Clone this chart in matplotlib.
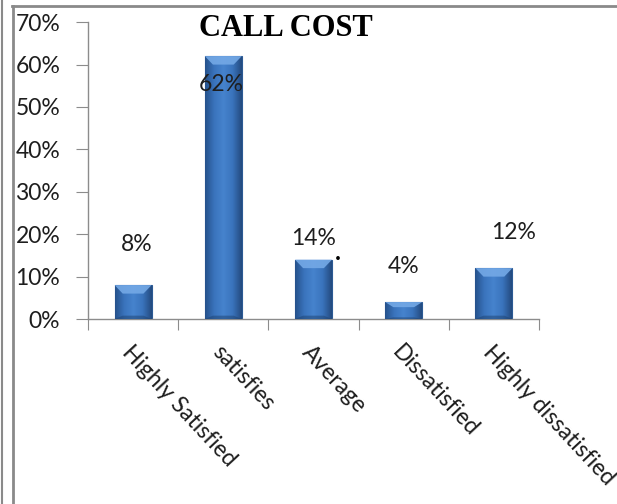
import numpy as np
import matplotlib
matplotlib.use("Agg")
import matplotlib.pyplot as plt
from matplotlib.colors import LinearSegmentedColormap
from matplotlib.patches import Polygon
from matplotlib.lines import Line2D
from matplotlib.ticker import PercentFormatter

# --- Data ---

categories = ["Highly Satisfied", "satisfies", "Average", "Dissatisfied", "Highly dissatisfied"]
values = [8, 62, 14, 4, 12]
value_labels = ["8%", "62%", "14%", "4%", "12%"]
# where the data labels sit (category units, percent)
label_x = [0.04, 0.98, 2.0, 3.0, 4.22]
label_y = [17.5, 55.2, 19.1, 12.3, 20.5]
title = "CALL COST"

plt.rcParams["font.family"] = ["Lato", "DejaVu Sans"]

# --- Figure ---

fig = plt.figure(figsize=(6.17, 5.04), dpi=100)
ax = fig.add_axes([0.1426, 0.367, 0.731, 0.589])

x = np.arange(len(categories))
bars = ax.bar(x, values, width=0.41, color="#3a6fb3", edgecolor="#2b5a94", linewidth=0.8, zorder=2)

# shaded look of the bars
grad = LinearSegmentedColormap.from_list("bar", ["#26528c", "#3a74bd", "#4683cd", "#3a74bd", "#244b80"])
gimg = np.linspace(0, 1, 64).reshape(1, -1)
for b in bars:
    bx, by, bw, bh = b.get_x(), b.get_y(), b.get_width(), b.get_height()
    im = ax.imshow(gimg, cmap=grad, aspect="auto", extent=(bx, bx + bw, by, by + bh), zorder=3)
    im.set_clip_path(b)
    dh = min(2.0, bh * 0.3)
    dx = 0.09
    top = by + bh
    ax.add_patch(Polygon([(bx, top), (bx + bw, top), (bx + bw - dx, top - dh), (bx + dx, top - dh)],
                         closed=True, facecolor="#74a9e6", edgecolor="none", alpha=0.9, zorder=4))
    ax.add_patch(Polygon([(bx, by), (bx + bw, by), (bx + bw - dx, by + min(0.8, bh * 0.1)),
                          (bx + dx, by + min(0.8, bh * 0.1))],
                         closed=True, facecolor="#1e4270", edgecolor="none", alpha=0.5, zorder=4))

for lx, ly, t in zip(label_x, label_y, value_labels):
    ax.text(lx, ly, t, ha="center", va="center", fontsize=16.5, color="#1e1e1e", zorder=6)
ax.text(2.27, 15.8, ".", ha="center", va="center", fontsize=18, fontweight="bold", color="black", zorder=6)

ax.set_xlim(-0.5, len(categories) - 0.5)
ax.set_ylim(0, 70)
ax.set_yticks(np.arange(0, 71, 10))
ax.yaxis.set_major_formatter(PercentFormatter(decimals=0))
ax.set_xticks(np.arange(-0.5, len(categories), 1.0))
ax.set_xticklabels([])
ax.set_xticks(x, minor=True)
ax.set_xticklabels(categories, minor=True, rotation=-47, ha="left", va="top",
                   rotation_mode="anchor", fontsize=16.5, color="#1e1e1e")
ax.tick_params(axis="x", which="minor", length=0, pad=16)
ax.tick_params(axis="x", which="major", length=8, color="#8c8c8c", direction="out")
ax.tick_params(axis="y", length=9, color="#8c8c8c", pad=11, labelsize=16.5, labelcolor="#1e1e1e")
for s in ["top", "right"]:
    ax.spines[s].set_visible(False)
for s in ["left", "bottom"]:
    ax.spines[s].set_color("#8c8c8c")
    ax.spines[s].set_linewidth(1.0)

fig.text(286 / 617, 1 - 28 / 504, title, ha="center", va="center", fontsize=22,
         fontweight="bold", family="Liberation Serif", color="black")

# outer frame lines
fig.add_artist(Line2D([1.5 / 617, 1.5 / 617], [0, 1], color="#8a8a8a", linewidth=1.5))
fig.add_artist(Line2D([12.5 / 617, 12.5 / 617], [0, 1 - 6 / 504], color="#8a8a8a", linewidth=2))
fig.add_artist(Line2D([12 / 617, 1], [1 - 6 / 504, 1 - 6 / 504], color="#8a8a8a", linewidth=2))

fig.savefig("out.png", dpi=100)
